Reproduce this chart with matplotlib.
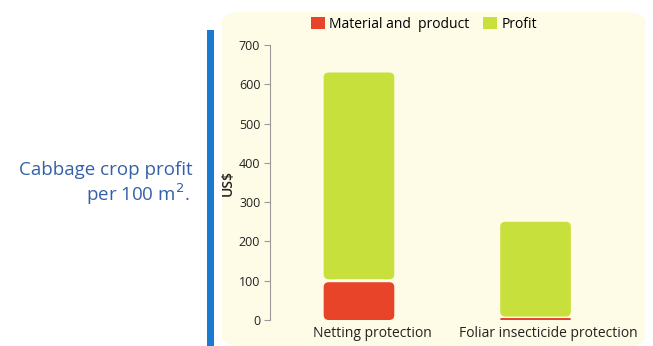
import matplotlib
matplotlib.use("Agg")
import matplotlib.pyplot as plt
from matplotlib.patches import FancyBboxPatch, Rectangle
import matplotlib.transforms as mtransforms

categories = ["Netting protection", "Foliar insecticide protection"]
material = [100, 5]
profit = [530, 245]
series_names = ["Material and  product", "Profit"]
yticks = [0, 100, 200, 300, 400, 500, 600, 700]

RED = "#e8442a"
GREEN = "#c8e03c"
PANEL = "#fefce6"
BLUE = "#1a7ad0"
TEXT_BLUE = "#3560a8"
FONT = ["Open Sans", "DejaVu Sans"]

plt.rcParams["font.family"] = FONT

W, H = 653, 346
fig = plt.figure(figsize=(W / 100, H / 100), dpi=100)
fig.patch.set_facecolor("white")

# cream panel behind the chart
panel = FancyBboxPatch((222 / W, 0.0), (645 - 222) / W, (346 - 12) / H,
                       boxstyle="round,pad=0,rounding_size=0.03",
                       transform=fig.transFigure, facecolor=PANEL,
                       edgecolor="none", zorder=-5)
fig.patches.append(panel)
# blue side rule
fig.patches.append(Rectangle((207 / W, 0.0), 7 / W, (346 - 30) / H,
                             transform=fig.transFigure, facecolor=BLUE,
                             edgecolor="none", zorder=-5))

ax_left, ax_right, ax_bot, ax_top = 270, 645, 320, 45
ax = fig.add_axes([ax_left / W, (H - ax_bot) / H, (ax_right - ax_left) / W,
                   (ax_bot - ax_top) / H])
ax.set_zorder(2)
ax.set_facecolor("none")
xlim = (-0.504, 1.62)
ylim = (0, 700)
ax.set_xlim(*xlim)
ax.set_ylim(*ylim)

# data units per pixel, used to keep bar corners circular
xpp = (xlim[1] - xlim[0]) / (ax_right - ax_left)
ypp = (ylim[1] - ylim[0]) / (ax_bot - ax_top)
aspect = ypp / xpp

x = list(range(len(categories)))
width = 0.40
bars_m = ax.bar(x, material, width=width, color=RED)
bars_p = ax.bar(x, profit, width=width, bottom=material, color=GREEN)

# rounded blocks with a small gap between stacked segments
gap = 3 * ypp
for bars, color in ((bars_m, RED), (bars_p, GREEN)):
    for b in bars:
        x0, y0 = b.get_x(), b.get_y()
        w, h = b.get_width(), b.get_height()
        b.set_visible(False)
        bot = y0 + (gap / 2 if color == GREEN else 0)
        top = y0 + h - (gap / 2 if color == RED and h > 20 else 0)
        hh = max(top - bot, 0)
        rs = min(5 * xpp, 0.45 * hh / aspect)
        patch = FancyBboxPatch((x0, bot), w, hh,
                               boxstyle=f"round,pad=0,rounding_size={rs}",
                               mutation_aspect=aspect,
                               facecolor=color, edgecolor="none", zorder=2)
        ax.add_patch(patch)

for s in ("top", "right", "bottom"):
    ax.spines[s].set_visible(False)
ax.spines["left"].set_color("#9a9a9a")
ax.spines["left"].set_linewidth(0.8)

ax.set_yticks(yticks)
ax.set_yticklabels([str(v) for v in yticks])
ax.tick_params(axis="y", length=4, width=0.8, color="#9a9a9a",
               labelsize=9, labelcolor="#222222", pad=3)
ax.set_xticks(x)
ax.set_xticklabels(categories)
ax.tick_params(axis="x", length=0, labelsize=10, labelcolor="#222222", pad=4)
offset = mtransforms.ScaledTranslation(13 / 100, 0, fig.dpi_scale_trans)
for lbl in ax.get_xticklabels():
    lbl.set_transform(lbl.get_transform() + offset)

ax.set_ylabel("US$", fontsize=10, color="#222222", labelpad=3, fontweight="semibold")

handles = [Rectangle((0, 0), 1, 1, facecolor=RED),
           Rectangle((0, 0), 1, 1, facecolor=GREEN)]
fig.legend(handles, series_names, loc="center", bbox_to_anchor=(424 / W, 1 - 24 / H),
           ncol=2, frameon=False, fontsize=10, handlelength=1.0, handleheight=1.0,
           handletextpad=0.3, columnspacing=1.0)

fig.text(193 / W, 1 - 170 / H, "Cabbage crop profit", ha="right", va="center",
         fontsize=13.5, color=TEXT_BLUE)
fig.text(190 / W, 1 - 194 / H, "per 100 m$^2$.", ha="right", va="center",
         fontsize=13.5, color=TEXT_BLUE)

fig.savefig("out.png", dpi=100, facecolor=fig.get_facecolor())
